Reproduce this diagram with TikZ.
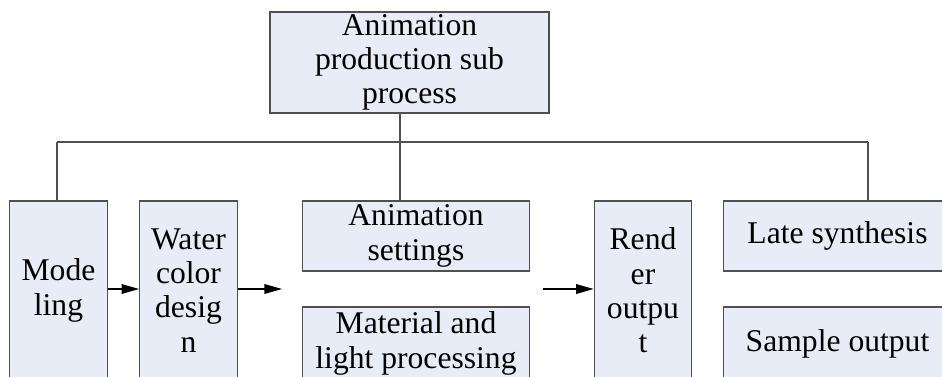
\documentclass[tikz,border=0pt]{standalone}
\usepackage{fontspec}
\setmainfont{Liberation Serif}
\usetikzlibrary{arrows.meta,positioning}
\definecolor{boxfill}{HTML}{E7ECF6}
\definecolor{edge}{HTML}{505050}
\tikzset{
  pbox/.style={rectangle,draw=edge,fill=boxfill,line width=0.7pt,inner sep=0pt,
    align=center,font=\fontsize{18}{19.5}\selectfont},
  tallbox/.style={pbox,minimum width=1.95cm,minimum height=3.58cm},
  widebox/.style={pbox,minimum width=4.55cm,minimum height=1.4cm},
  link/.style={draw=edge,line width=0.7pt},
  flow/.style={link,-{Triangle[length=10pt,width=5.5pt]},color=black},
}
\begin{document}
\begin{tikzpicture}[x=0.02cm,y=-0.02cm]
  \useasboundingbox (0,0) rectangle (942,376);
  \clip (0,0) rectangle (942,376);

  \node[pbox,minimum width=5.58cm,minimum height=2.02cm] (top) at (409.5,62.5)
    {Animation\\production sub\\process};

  \node[tallbox] (model)  at (58.5,290.5) {Mode\\ling};
  \node[tallbox] (water)  at (188.5,290.5) {Water\\color\\desig\\n};
  \node[widebox] (anim)   at (416,236) {Animation\\settings};
  \node[widebox,minimum height=1.46cm] (mat) at (416,343.5) {Material and\\light processing};
  \node[tallbox] (render) at (643,290.5) {Rend\\er\\outpu\\t};
  \node[widebox] (late)   at (837.5,236) {Late synthesis};
  \node[widebox,minimum height=1.46cm] (sample) at (837.5,343.5) {Sample output};

  % tree lines
  \coordinate (busL) at (57,142);
  \coordinate (busM) at (400,142);
  \coordinate (busR) at (868,142);
  \draw[link] (busM |- top.south) -- (busM);
  \draw[link] (busL) -- (busR);
  \draw[link] (busL) -- (busL |- model.north);
  \draw[link] (busM) -- (busM |- anim.north);
  \draw[link] (busR) -- (busR |- late.north);

  % flow arrows
  \coordinate (gapL) at (282,289);
  \coordinate (gapR) at (543,289);
  \draw[flow] (model.east |- gapL) -- (water.west |- gapL);
  \draw[flow] (water.east |- gapL) -- (gapL);
  \draw[flow] (gapR) -- (render.west |- gapR);
\end{tikzpicture}
\end{document}
